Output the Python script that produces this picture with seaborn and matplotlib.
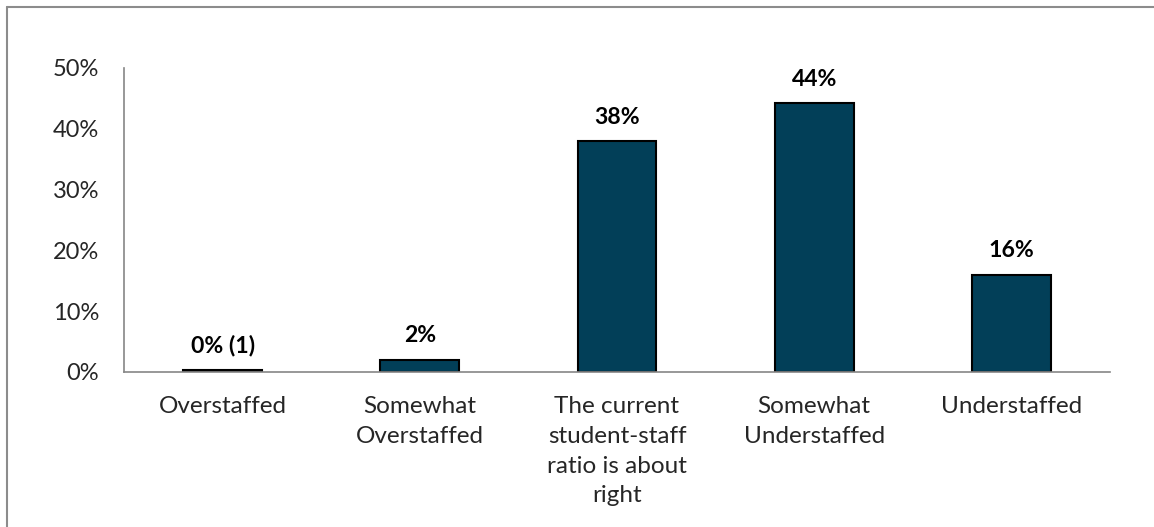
import matplotlib
matplotlib.use("Agg")
import matplotlib.pyplot as plt
import seaborn as sns
import pandas as pd
from matplotlib.lines import Line2D
from matplotlib.ticker import FuncFormatter

# data
categories = ["Overstaffed",
              "Somewhat\nOverstaffed",
              "The current\nstudent-staff\nratio is about\nright",
              "Somewhat\nUnderstaffed",
              "Understaffed"]
values = [0.3, 2.0, 38.0, 44.2, 16.0]
bar_labels = ["0% (1)", "2%", "38%", "44%", "16%"]

df = pd.DataFrame({"category": categories, "pct": values})

sns.set_style("white")
plt.rcParams['font.family'] = ['Lato', 'DejaVu Sans']

W, H = 1154, 527
fig = plt.figure(figsize=(W / 100, H / 100), dpi=100)
ax = fig.add_axes([124/W, 1-372/H, (1110-124)/W, (372-68)/H])

sns.barplot(data=df, x="category", y="pct", color="#023F58", width=0.4,
            edgecolor="black", linewidth=1.5, saturation=1, ax=ax)

# value labels over the bars
for i, (v, lab) in enumerate(zip(values, bar_labels)):
    ax.text(i, v + 2.2, lab, ha="center", va="bottom",
            fontsize=16.6, fontweight="bold", color="black")

ax.set_ylim(0, 50)
ax.set_xlim(-0.5, 4.5)
ax.set_yticks([0, 10, 20, 30, 40, 50])
ax.yaxis.set_major_formatter(FuncFormatter(lambda v, p: f"{v:.0f}%"))
ax.set_xlabel("")
ax.set_ylabel("")

# tick marks sit between categories, labels at the centers
ax.set_xticks([-0.5, 0.5, 1.5, 2.5, 3.5, 4.5])
ax.set_xticklabels([])
ax.set_xticks(range(len(categories)), minor=True)
ax.set_xticklabels(categories, minor=True, fontsize=17.5, linespacing=1.51)
ax.tick_params(axis="x", which="minor", length=0, pad=17.6)
ax.tick_params(axis="x", which="major", length=6, width=1.2, color="#868686", direction="out")
ax.tick_params(axis="y", length=5, width=1.2, color="#868686", direction="out",
               labelsize=17, pad=13)

for s in ["top", "right"]:
    ax.spines[s].set_visible(False)
for s in ["left", "bottom"]:
    ax.spines[s].set_color("#868686")
    ax.spines[s].set_linewidth(1.2)

# chart frame: only the top and left edges are inside the picture
fig.add_artist(Line2D([6.5/W, 1], [1-6.5/H, 1-6.5/H], transform=fig.transFigure,
                      color="#8c8c8c", linewidth=1.5))
fig.add_artist(Line2D([6.5/W, 6.5/W], [0, 1-6.5/H], transform=fig.transFigure,
                      color="#8c8c8c", linewidth=1.5))

fig.savefig("out.png", dpi=100)
